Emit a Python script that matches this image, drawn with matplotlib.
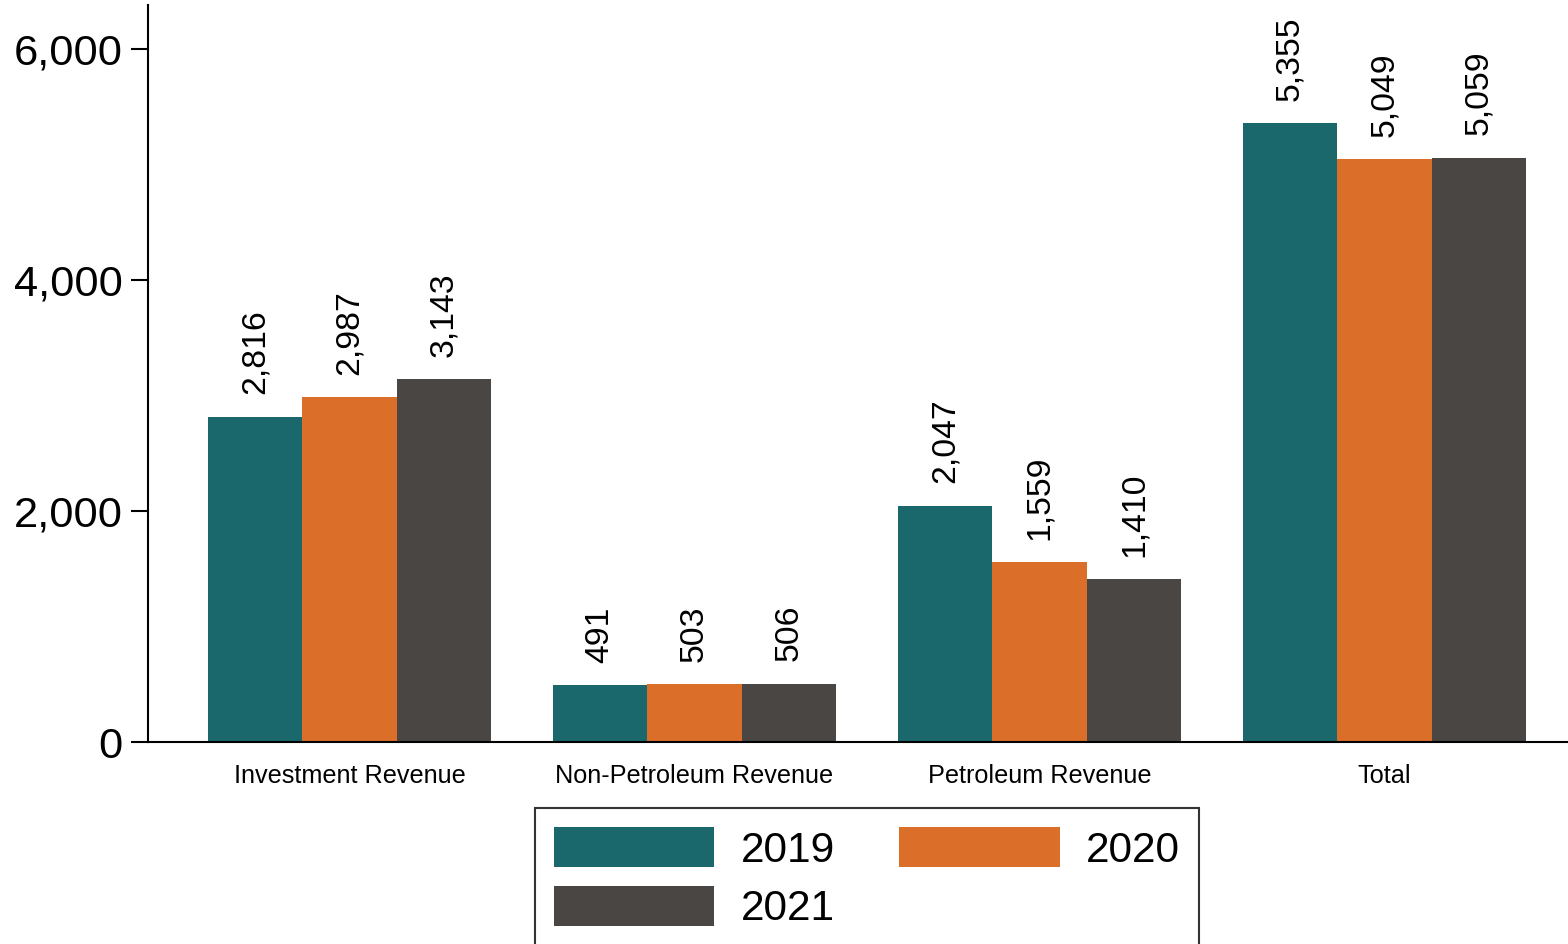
import matplotlib
matplotlib.use("Agg")
import matplotlib.pyplot as plt
import numpy as np
from matplotlib.ticker import FuncFormatter

categories = ["Investment Revenue", "Non-Petroleum Revenue", "Petroleum Revenue", "Total"]
years = ["2019", "2020", "2021"]
v2019 = [2816, 491, 2047, 5355]
v2020 = [2987, 503, 1559, 5049]
v2021 = [3143, 506, 1410, 5059]
colors = ["#1a686c", "#db6f2a", "#4a4644"]

plt.rcParams['font.family'] = ['Liberation Sans', 'DejaVu Sans']

fig = plt.figure(figsize=(15.68, 9.44), dpi=100)
ax = fig.add_axes([148/1568, 1 - 742/944, 1 - 148/1568, (742 - 5)/944])

x = np.arange(len(categories))
w = 0.274
series = [v2019, v2020, v2021]
handles = []
for i, (vals, yr, c) in enumerate(zip(series, years, colors)):
    bars = ax.bar(x + (i - 1) * w, vals, width=w, color=c, label=yr, linewidth=0)
    handles.append(bars)
    ax.bar_label(bars, labels=[f"{v:,}" for v in vals], rotation=90, padding=16,
                 fontsize=24.3)

ax.set_xlim(-0.584, 3.532)
ax.set_ylim(0, 6380)
ax.set_yticks([0, 2000, 4000, 6000])
ax.yaxis.set_major_formatter(FuncFormatter(lambda v, p: f"{int(v):,}"))
ax.set_xticks(x)
ax.set_xticklabels(categories, fontsize=18.2)
ax.tick_params(axis='x', length=0, pad=16)
ax.tick_params(axis='y', length=12, width=1.5, pad=6, labelsize=31.3)
for s in ['top', 'right']:
    ax.spines[s].set_visible(False)
for s in ['left', 'bottom']:
    ax.spines[s].set_linewidth(1.5)

# row-major order: 2019, 2020 / 2021
order = [0, 2, 1]
leg = fig.legend([handles[k] for k in order], [years[k] for k in order],
                 loc='upper center', bbox_to_anchor=(867/1568, 1 - 808/944), ncol=2,
                 fontsize=30.5, frameon=True, fancybox=False, edgecolor='black',
                 handlelength=3.79, handleheight=1.08, handletextpad=0.62,
                 columnspacing=1.52, labelspacing=0.36, borderpad=0.45,
                 borderaxespad=0)
leg.get_frame().set_linewidth(1.5)

fig.savefig("out.png", dpi=100)
